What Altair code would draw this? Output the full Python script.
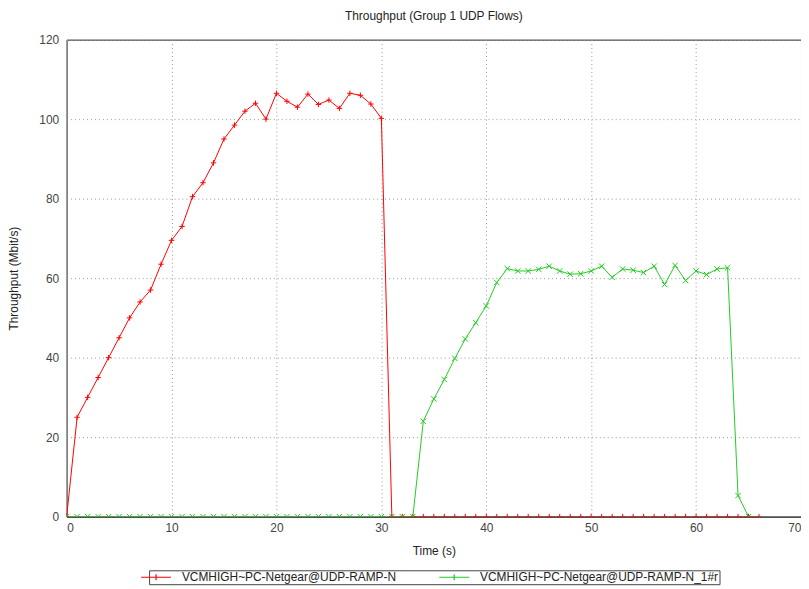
import altair as alt
import pandas as pd

red_name = "VCMHIGH~PC-Netgear@UDP-RAMP-N"
green_name = "VCMHIGH~PC-Netgear@UDP-RAMP-N_1#r"

red_time = list(range(0, 67))
red_vals = [0, 25, 30, 35, 40, 45, 50, 54, 57, 63.5, 69.5, 73, 80.5, 84, 89, 95,
            98.5, 102, 104, 100, 106.5, 104.5, 103, 106.3, 103.7, 104.8, 102.7,
            106.5, 106, 103.8, 100.2] + [0] * 36

green_time = list(range(0, 66))
green_vals = [0] * 34 + [24, 29.6, 34.5, 39.8, 44.7, 48.8, 53, 58.9, 62.4, 61.8,
                         61.8, 62.2, 63, 61.8, 61, 61.1, 61.8, 63, 60.2, 62.3,
                         62, 61.4, 63, 58.4, 63.2, 59.4, 61.8, 60.9, 62.3, 62.6,
                         5.3, 0]

x_ticks = [0, 10, 20, 30, 40, 50, 60, 70]
y_ticks = [0, 20, 40, 60, 80, 100, 120]

df = pd.concat([
    pd.DataFrame({"t": red_time, "v": red_vals, "series": red_name, "marker": "plus"}),
    pd.DataFrame({"t": green_time, "v": green_vals, "series": green_name, "marker": "cross"}),
])

FONT = "Liberation Sans"
FS = 12
series_order = [red_name, green_name]
marker_order = ["plus", "cross"]
colors = ["#ff0000", "#22cc22"]

axis_common = dict(format="d", grid=True, gridDash=[1, 3], gridColor="#999999",
                   ticks=False, labelFont=FONT, labelFontSize=FS,
                   labelColor="#444444", titleFont=FONT, titleFontSize=FS,
                   titleFontWeight="normal", titleColor="#222222")

x = alt.X("t:Q", title="Time (s)",
          scale=alt.Scale(domain=[0, 70], nice=False, zero=False),
          axis=alt.Axis(values=x_ticks, labelPadding=6, domainColor="#333333",
                        titlePadding=12, **axis_common))
y = alt.Y("v:Q", title="Throughput (Mbit/s)",
          scale=alt.Scale(domain=[0, 120], nice=False),
          axis=alt.Axis(values=y_ticks, labelPadding=8, domainColor="#888888",
                        titlePadding=18, **axis_common))
color = alt.Color("series:N", scale=alt.Scale(domain=series_order, range=colors),
                  legend=alt.Legend(title=None, orient="none", legendX=83, legendY=534,
                                    direction="horizontal",
                                    symbolType="M-3,0L3,0M0,-0.6L0,0.6",
                                    symbolSize=100, symbolStrokeWidth=1.2,
                                    labelFont=FONT, labelFontSize=FS,
                                    labelColor="#222222", columnPadding=40,
                                    labelOffset=20,
                                    strokeColor="#444444",
                                    padding=1,
                                    labelLimit=400))

lines = alt.Chart(df).mark_line(strokeWidth=1, clip=True).encode(
    x=x, y=y, color=color, detail="series:N")

shape = alt.Shape("marker:N", scale=alt.Scale(
    domain=marker_order,
    range=["M-1,0L1,0M0,-1L0,1", "M-1,-1L1,1M-1,1L1,-1"]), legend=None)

points = alt.Chart(df).mark_point(filled=False, size=30, strokeWidth=1, opacity=1,
                                  clip=True).encode(
    x="t:Q", y="v:Q",
    stroke=alt.Stroke("marker:N", scale=alt.Scale(domain=marker_order, range=colors),
                      legend=None),
    shape=shape)

chart = alt.layer(lines, points).resolve_scale(
    color="independent", shape="independent", stroke="independent"
).properties(
    width=739, height=480,
    title=alt.Title("Throughput (Group 1 UDP Flows)", font=FONT, fontSize=FS,
                    fontWeight="normal", color="#222222", offset=11),
    autosize=alt.AutoSizeParams(type="none"),
    padding={"left": 59, "top": 30, "right": 0, "bottom": 71},
).configure_view(stroke="#222222", strokeWidth=1)

chart.save("out.html", embed_options={"renderer": "svg", "actions": False})
